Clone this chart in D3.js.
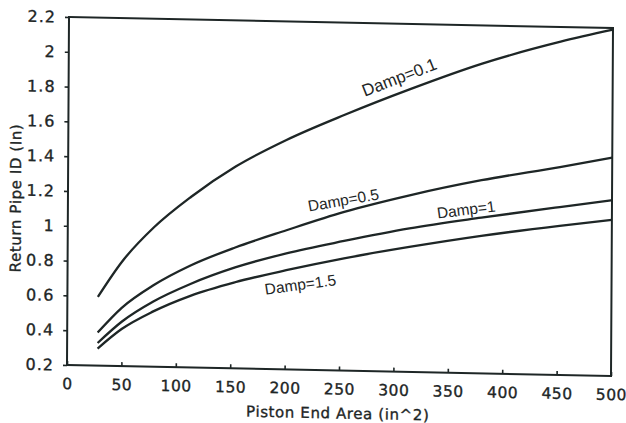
<!DOCTYPE html>
<html>
<head>
<meta charset="utf-8">
<script src="https://cdn.jsdelivr.net/npm/d3@7"></script>
<style>
  html, body { margin: 0; padding: 0; background: #ffffff; }
  svg { display: block; }
  .tick text { font-family: "DejaVu Sans", sans-serif; font-size: 16px; fill: #1e2626; stroke: #1e2626; stroke-width: 0.35px; }
  .y-axis .tick text { letter-spacing: 1px; }
  .x-axis .tick text { font-size: 15.5px; letter-spacing: 0.5px; }
  .tick line { stroke: #1e2626; stroke-width: 1.6px; }
  .title { font-family: "DejaVu Sans", sans-serif; font-size: 15px; fill: #1e2626; stroke: #1e2626; stroke-width: 0.35px; letter-spacing: 0.6px; }
  .clabel { font-family: "Liberation Sans", Arial, sans-serif; font-size: 15.5px; fill: #1e2626; }
</style>
</head>
<body>
<svg id="chart" width="626" height="423"></svg>
<script>
// Piston end area (in^2) at which each curve was evaluated
const areas = [28, 50, 79, 113, 154, 201, 254, 314, 380, 452, 500];

// Return pipe inside diameter (in) for each damping ratio
const damp01 = [0.595, 0.80, 1.00, 1.18, 1.36, 1.52, 1.67, 1.825, 1.98, 2.115, 2.19];
const damp05 = [0.39, 0.535, 0.668, 0.786, 0.895, 1.00, 1.112, 1.215, 1.31, 1.395, 1.455];
const damp10 = [0.33, 0.455, 0.575, 0.68, 0.78, 0.867, 0.945, 1.025, 1.095, 1.165, 1.21];
const damp15 = [0.298, 0.413, 0.518, 0.612, 0.695, 0.77, 0.845, 0.918, 0.99, 1.057, 1.097];

const seriesNames = ["Damp=0.1", "Damp=0.5", "Damp=1", "Damp=1.5"];

// Axis ticks
const xTicks = [0, 50, 100, 150, 200, 250, 300, 350, 400, 450, 500];
const yTicks = [0.2, 0.4, 0.6, 0.8, 1, 1.2, 1.4, 1.6, 1.8, 2, 2.2];
const yTickLabels = ["0.2", "0.4", "0.6", "0.8", "1", "1.2", "1.4", "1.6", "1.8", "2", "2.2"];

// Series label anchors: area, diameter, slant (degrees)
const labelLayout = [[304, 1.89, -22], [253, 1.18, -11], [366, 1.14, -8], [214, 0.69, -9]];

const W = 544, H = 348;
const ink = "#1e2626";

const svg = d3.select("#chart");
// The plot sheet sits slightly tilted on the page
const g = svg.append("g")
  .attr("transform", `matrix(1, ${11 / W}, ${-2 / H}, 1, 69, 17)`);

const x = d3.scaleLinear().domain([0, 500]).range([0, W]);
const y = d3.scaleLinear().domain([0.2, 2.2]).range([H, 0]);

// Left axis
const yAxis = g.append("g")
  .attr("class", "y-axis")
  .call(d3.axisLeft(y).tickValues(yTicks)
    .tickFormat((d, i) => yTickLabels[i]).tickSize(4).tickPadding(9));
yAxis.select(".domain").remove();

// Bottom axis, ticks pointing into the plot
const xAxis = g.append("g")
  .attr("class", "x-axis")
  .attr("transform", `translate(0,${H})`)
  .call(d3.axisBottom(x).tickValues(xTicks)
    .tickFormat(d3.format("d")).tickSize(-4).tickPadding(13));
xAxis.select(".domain").remove();

// Frame
g.append("rect")
  .attr("x", 0).attr("y", 0).attr("width", W).attr("height", H)
  .attr("fill", "none").attr("stroke", ink).attr("stroke-width", 2);

// Curves
const allSeries = [damp01, damp05, damp10, damp15];
const line = d3.line()
  .x((d, i) => x(areas[i]))
  .y(d => y(d))
  .curve(d3.curveMonotoneX);

g.selectAll("path.curve")
  .data(allSeries)
  .join("path")
  .attr("class", "curve")
  .attr("d", line)
  .attr("fill", "none")
  .attr("stroke", ink)
  .attr("stroke-width", 2.3)
  .attr("stroke-linejoin", "round");

// Series labels along the curves
g.selectAll("text.clabel")
  .data(seriesNames)
  .join("text")
  .attr("class", "clabel")
  .attr("text-anchor", "middle")
  .attr("dominant-baseline", "central")
  .attr("transform", (d, i) =>
    `translate(${x(labelLayout[i][0])},${y(labelLayout[i][1])}) rotate(${labelLayout[i][2]})`)
  .style("font-size", (d, i) => i === 0 ? "17px" : null)
  .text(d => d);

// Axis titles
g.append("text")
  .attr("class", "title")
  .attr("text-anchor", "middle")
  .attr("x", W / 2 - 1)
  .attr("y", H + 48)
  .text("Piston End Area (in^2)");

g.append("text")
  .attr("class", "title")
  .attr("text-anchor", "middle")
  .attr("transform", `translate(-47,${H / 2 + 8}) rotate(-90)`)
  .text("Return Pipe ID (In)");
</script>
</body>
</html>
